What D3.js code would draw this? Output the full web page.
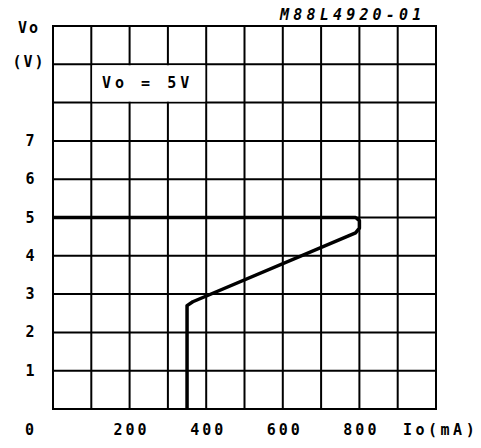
<!DOCTYPE html>
<html><head><meta charset="utf-8">
<script src="https://cdn.jsdelivr.net/npm/d3@7"></script>
<style>
html,body{margin:0;padding:0;background:#fff;}
text{font-family:"DejaVu Sans Mono",monospace;font-weight:bold;fill:#000;}
</style></head>
<body><svg id="c" width="481" height="448"></svg>
<script>
const xTicks = [0, 200, 400, 600, 800];
const yTicks = [1, 2, 3, 4, 5, 6, 7];
const xGrid = [0,100,200,300,400,500,600,700,800,900,1000];
const yGrid = [0,1,2,3,4,5,6,7,8,9,10];
const curveIo = [350, 350, 365, 790, 800, 800, 790, 0];
const curveVo = [0, 2.7, 2.8, 4.6, 4.72, 4.92, 5, 5];

const svg = d3.select("#c");
const x = d3.scaleLinear().domain([0,1000]).range([53,436]);
const y = d3.scaleLinear().domain([0,10]).range([409,26]);

const g = svg.append("g");
g.selectAll("line.v").data(xGrid).enter().append("line")
  .attr("x1", d=>x(d)).attr("x2", d=>x(d)).attr("y1", y(0)).attr("y2", y(10))
  .attr("stroke","#000").attr("stroke-width",2);
g.selectAll("line.h").data(yGrid).enter().append("line")
  .attr("y1", d=>y(d)).attr("y2", d=>y(d)).attr("x1", x(0)-1).attr("x2", x(1000)+1)
  .attr("stroke","#000").attr("stroke-width",2);

// label box covering grid
g.append("rect").attr("x", x(100)+1).attr("y", y(9)+1)
  .attr("width", x(400)-x(100)-2).attr("height", y(8)-y(9)-2).attr("fill","#fff");
svg.append("text").attr("x", x(128)).attr("y", y(8.5)+5).attr("font-size",15)
  .attr("letter-spacing",4).text("Vo = 5V");

const pts = curveIo.map((d,i)=>[d, curveVo[i]]);
svg.append("path").attr("d", d3.line().x(d=>x(d[0])).y(d=>y(d[1])).curve(d3.curveLinear)(pts))
  .attr("fill","none").attr("stroke","#000").attr("stroke-width",3.5).attr("stroke-linejoin","round");

// y tick labels
svg.selectAll("text.yt").data(yTicks).enter().append("text")
  .attr("x", 30).attr("y", d=>y(d)+5).attr("text-anchor","middle").attr("font-size",15).text(d=>d);
// x tick labels
svg.selectAll("text.xt").data(xTicks).enter().append("text")
  .attr("x", d=> d===0 ? 31 : x(d)+2).attr("y", 435).attr("text-anchor","middle")
  .attr("font-size",15).attr("letter-spacing",3).text(d=>d);

svg.append("text").attr("x", 29).attr("y", 33).attr("text-anchor","middle").attr("font-size",15).attr("letter-spacing",2).text("Vo");
svg.append("text").attr("x", 29).attr("y", 67).attr("text-anchor","middle").attr("font-size",15).attr("letter-spacing",2).text("(V)");
svg.append("text").attr("x", 403).attr("y", 435).attr("font-size",15).attr("letter-spacing",3.5).text("Io(mA)");
svg.append("text").attr("x", 280).attr("y", 20).attr("font-size",15).attr("font-style","italic")
  .attr("font-weight","normal").attr("letter-spacing",4.2).text("M88L4920-01");
</script></body></html>
